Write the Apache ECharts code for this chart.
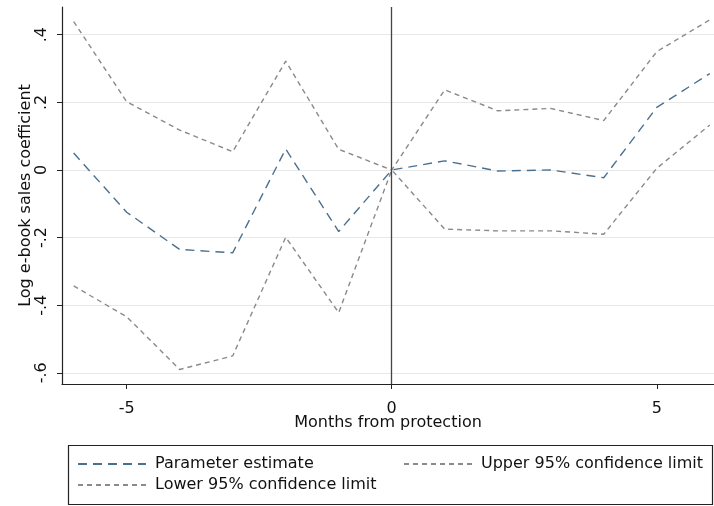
<!DOCTYPE html>
<html>
<head>
<meta charset="utf-8">
<script src="https://cdn.jsdelivr.net/npm/echarts@6/dist/echarts.min.js"></script>
<style>
html,body{margin:0;padding:0;background:#fff;}
#main{width:714px;height:506px;}
</style>
</head>
<body>
<div id="main"></div>
<script>
// months from protection
var months = [-6, -5, -4, -3, -2, -1, 0, 1, 2, 3, 4, 5, 6];
// coefficient estimates
var estimate = [0.05, -0.125, -0.235, -0.245, 0.062, -0.182, 0, 0.027, -0.003, 0.0, -0.023, 0.185, 0.285];
var upper = [0.439, 0.202, 0.118, 0.054, 0.322, 0.061, 0, 0.237, 0.175, 0.182, 0.146, 0.35, 0.444];
var lower = [-0.343, -0.434, -0.59, -0.55, -0.199, -0.422, 0, -0.175, -0.18, -0.18, -0.19, 0.005, 0.133];
var xTicks = [-5, 0, 5];
var yTicks = [-0.6, -0.4, -0.2, 0, 0.2, 0.4];

function pairs(ys){
	return months.map(function(m, i){ return [m, ys[i]]; });
}
function fmtY(v){
	var s = (Math.round(v * 10) / 10).toString();
	return s.replace('0.', '.');
}

var font = 'DejaVu Sans, Liberation Sans, sans-serif';
var fs = 16;
// one legend per entry so each sits where the reference puts it
function legendAt(name, left, top){
	return {
		left: left,
		top: top,
		itemWidth: 68,
		itemHeight: 10,
		itemStyle: {opacity: 0},
		textStyle: {fontSize: fs, color: '#111', fontFamily: font, padding: [0, 0, 0, 4]},
		data: [name]
	};
}

var chart = echarts.init(document.getElementById('main'));
chart.setOption({
	animation: false,
	textStyle: {fontFamily: font},
	grid: {left: 62, right: 0, top: 7, bottom: 122},
	legend: [
		legendAt('Parameter estimate', 72, 451),
		legendAt('Upper 95% confidence limit', 398, 451),
		legendAt('Lower 95% confidence limit', 72, 472)
	],
	graphic: [{
		type: 'rect',
		shape: {x: 68.5, y: 445.5, width: 644, height: 59},
		style: {fill: 'none', stroke: '#222', lineWidth: 1.2},
		z: -1
	}],
	xAxis: {
		type: 'value',
		min: -6.22,
		max: 6.08,
		name: 'Months from protection',
		nameLocation: 'middle',
		nameGap: 31,
		nameMoveOverlap: false,
		nameTextStyle: {fontSize: fs, color: '#111'},
		axisLine: {onZero: false, lineStyle: {color: '#222', width: 1.2}},
		axisTick: {show: true, length: 5, customValues: xTicks, lineStyle: {color: '#222'}},
		axisLabel: {customValues: xTicks, fontSize: fs, color: '#111', margin: 17},
		splitLine: {show: false}
	},
	yAxis: {
		type: 'value',
		min: -0.633,
		max: 0.482,
		name: 'Log e-book sales coefficient',
		nameLocation: 'middle',
		nameGap: 28,
		nameMoveOverlap: false,
		nameTextStyle: {fontSize: fs, color: '#111'},
		axisLine: {show: true, onZero: false, lineStyle: {color: '#222', width: 1.2}},
		axisTick: {show: true, length: 5, customValues: yTicks, lineStyle: {color: '#222'}},
		axisLabel: {customValues: yTicks, fontSize: fs, color: '#111', rotate: 90, margin: 12, formatter: fmtY},
		splitLine: {show: true, lineStyle: {color: '#e8e8e8', width: 1.2}}
	},
	series: [{
		name: 'Parameter estimate',
		type: 'line',
		data: pairs(estimate),
		showSymbol: false,
		symbol: 'none',
		lineStyle: {color: '#4a7090', width: 1.4, type: [9, 6]},
		itemStyle: {color: '#4a7090'},
		markLine: {
			silent: true,
			symbol: 'none',
			label: {show: false},
			lineStyle: {color: '#444', width: 1.3, type: 'solid'},
			data: [{xAxis: 0}]
		}
	}, {
		name: 'Upper 95% confidence limit',
		type: 'line',
		data: pairs(upper),
		showSymbol: false,
		symbol: 'none',
		lineStyle: {color: '#8a8a8a', width: 1.4, type: [5, 4]},
		itemStyle: {color: '#8a8a8a'}
	}, {
		name: 'Lower 95% confidence limit',
		type: 'line',
		data: pairs(lower),
		showSymbol: false,
		symbol: 'none',
		lineStyle: {color: '#8a8a8a', width: 1.4, type: [5, 4]},
		itemStyle: {color: '#8a8a8a'}
	}]
});
</script>
</body>
</html>
